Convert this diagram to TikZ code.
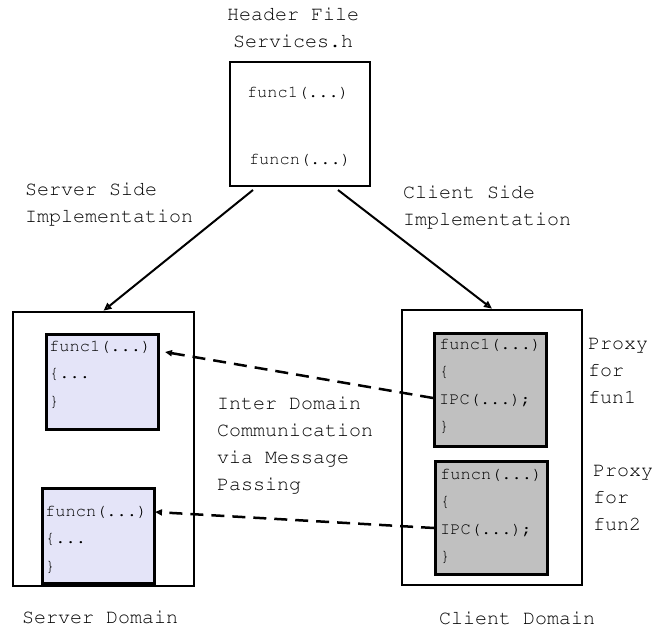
\documentclass[tikz,border=0pt]{standalone}
\usepackage[T1]{fontenc}
\usepackage{courier}
\renewcommand{\familydefault}{\ttdefault}
\usetikzlibrary{arrows.meta}
\definecolor{srvfill}{RGB}{228,228,248}
\definecolor{clifill}{RGB}{192,192,192}
\tikzset{
	box/.style={draw, line width=2.6pt, inner sep=0pt},
	lbl/.style={inner sep=0pt, font=\fontsize{20}{27}\selectfont, align=left},
	code/.style={inner sep=0pt, font=\fontsize{17}{27.5}\selectfont, align=left},
	impl/.style={line width=2pt, -{Triangle[open, length=8pt, width=7pt]}},
	ipc/.style={line width=2.5pt, dash pattern=on 13pt off 8pt, -{Triangle[open, length=7pt, width=6pt]}}
}
\begin{document}
\begin{tikzpicture}[x=1pt, y=-1pt]
			%%%%% START %%%%%
			\useasboundingbox (0,0) rectangle (655,628);
			
			% header file
			\node[lbl, align=center] (hdrname) at (293,28) {Header File\\Services.h};
			\node[box, minimum width=140, minimum height=124] (hdr) at (300,124) {};
			\node[code, anchor=mid] (hdrf1) at (298,95) {func1(...)};
			\node[code, anchor=mid] (hdrfn) at (300,162) {funcn(...)};
			
			% domains
			\node[box, minimum width=181, minimum height=274] (srv) at (103.5,449) {};
			\node[box, minimum width=180, minimum height=275] (cli) at (492,447.5) {};
			
			\node[box, fill=srvfill, minimum width=112, minimum height=95, anchor=north west] (srv1) at (45,333) {};
			\node[box, fill=srvfill, minimum width=112, minimum height=95, anchor=north west] (srvn) at (41,487) {};
			\node[box, fill=clifill, minimum width=112, minimum height=113, anchor=north west] (cli1) at (433,332) {};
			\node[box, fill=clifill, minimum width=112, minimum height=113, anchor=north west] (clin) at (434,460) {};
			
			\node[code, anchor=north west] (srv1txt) at (49,340) {func1(...)\\\{...\\\}};
			\node[code, anchor=north west] (srvntxt) at (45,505) {funcn(...)\\\{...\\\}};
			\node[code, anchor=north west] (cli1txt) at (439,338) {func1(...)\\\{\\IPC(...);\\\}};
			\node[code, anchor=north west] (clintxt) at (440,468) {funcn(...)\\\{\\IPC(...);\\\}};
			
			% labels
			\node[lbl, anchor=north west] (srvside) at (25,183) {Server Side\\Implementation};
			\node[lbl, anchor=north west] (clside) at (403,186) {Client Side\\Implementation};
			\node[lbl, anchor=north west] (ipctxt) at (217,397) {Inter Domain\\Communication\\via Message\\Passing};
			\node[lbl, anchor=north west] (proxy1) at (588,338) {Proxy\\for\\fun1};
			\node[lbl, anchor=north west] (proxyn) at (593,465) {Proxy\\for\\fun2};
			\node[lbl] (srvdom) at (100,617) {Server Domain};
			\node[lbl] (clidom) at (517,618) {Client Domain};
			
			% connectors
			\coordinate (hdrL) at (253,190);
			\coordinate (hdrR) at (338,190);
			\draw[impl] (hdrL) -- (srv.north);
			\draw[impl] (hdrR) -- (cli.north);
			
			\coordinate (ipc1) at (433,398);
			\coordinate (ipcn) at (434,528);
			\coordinate (tgt1) at (165,352);
			\coordinate (tgtn) at (155,512);
			\draw[ipc] (ipc1) -- (tgt1);
			\draw[ipc] (ipcn) -- (tgtn);
			%%%%% END %%%%%
\end{tikzpicture}
\end{document}
